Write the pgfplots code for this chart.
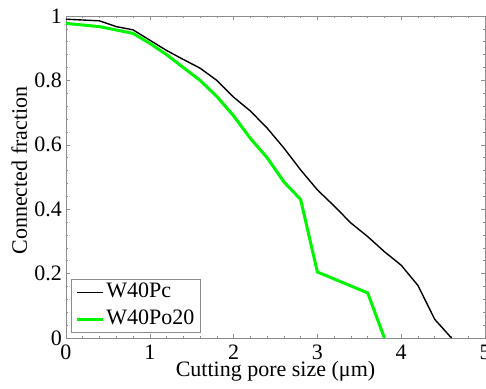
\documentclass[border=0pt]{standalone}
\usepackage{pgfplots}
\pgfplotsset{compat=1.18}
\usepackage{fontspec}
\setmainfont{Liberation Serif}
\definecolor{frame}{RGB}{140,140,140}
\definecolor{lgreen}{RGB}{0,245,0}
\begin{document}
\fontsize{22}{26}\selectfont
\begin{tikzpicture}
\begin{axis}[
  scale only axis,
  width=419pt, height=322pt,
  xmin=0, xmax=5, ymin=0, ymax=1,
  xtick={0,1,2,3,4,5},
  ytick={0,0.2,0.4,0.6,0.8,1},
  yticklabels={0,0.2,0.4,0.6,0.8,1},
  minor x tick num=4,
  minor y tick num=4,
  tick align=inside,
  major tick length=4pt,
  minor tick length=2.3pt,
  every tick/.style={frame, line width=0.6pt},
  axis line style={frame, line width=0.8pt},
  tick label style={font=\fontsize{22}{26}\selectfont, text=black, inner sep=0pt},
  /pgf/number format/assume math mode=true,
  xticklabel style={yshift=-7pt},
  yticklabel style={xshift=-4pt},
  xlabel={Cutting pore size (μm)},
  ylabel={Connected fraction},
  xlabel style={font=\fontsize{22}{26}\selectfont, at={(axis description cs:0.5,0)}, anchor=base, yshift=-38pt, inner sep=0pt},
  ylabel style={font=\fontsize{22}{26}\selectfont, at={(axis description cs:-0.0931,0.52)}, anchor=base, inner sep=0pt},
  legend image code/.code={\draw[#1] (0pt,0pt) -- (26pt,0pt);},
  legend style={at={(axis description cs:0,0)}, anchor=south west, xshift=5pt, yshift=5pt,
    draw=frame, line width=0.8pt, inner xsep=4pt, inner ysep=1pt,
    font=\fontsize{22}{26}\selectfont, row sep=3pt,
    nodes={inner sep=2pt, text height=15pt, text depth=5pt},
    legend cell align=left},
]
\addplot[black, line width=1.4pt] coordinates {
(0,0.99)(0.4,0.985)(0.6,0.967)(0.8,0.957)(1.0,0.925)(1.2,0.893)(1.4,0.865)(1.6,0.838)
(1.8,0.80)(2.0,0.748)(2.2,0.705)(2.4,0.652)(2.6,0.59)(2.8,0.522)(3.0,0.46)(3.2,0.41)
(3.4,0.357)(3.6,0.315)(3.8,0.268)(4.0,0.226)(4.2,0.163)(4.4,0.058)(4.6,0)
};
\addlegendentry{W40Pc}
\addplot[lgreen, line width=3pt] coordinates {
(0,0.977)(0.4,0.967)(0.8,0.946)(1.0,0.915)(1.2,0.88)(1.4,0.84)(1.6,0.80)(1.8,0.75)
(2.0,0.69)(2.2,0.62)(2.4,0.56)(2.6,0.485)(2.8,0.43)(3.0,0.205)(3.6,0.14)(3.8,0)
};
\addlegendentry{W40Po20}
\end{axis}
\pgfresetboundingbox
\path[use as bounding box] ([shift={(-66pt,-50pt)}]current axis.south west) rectangle ([shift={(1pt,16pt)}]current axis.north east);
\end{tikzpicture}
\end{document}
